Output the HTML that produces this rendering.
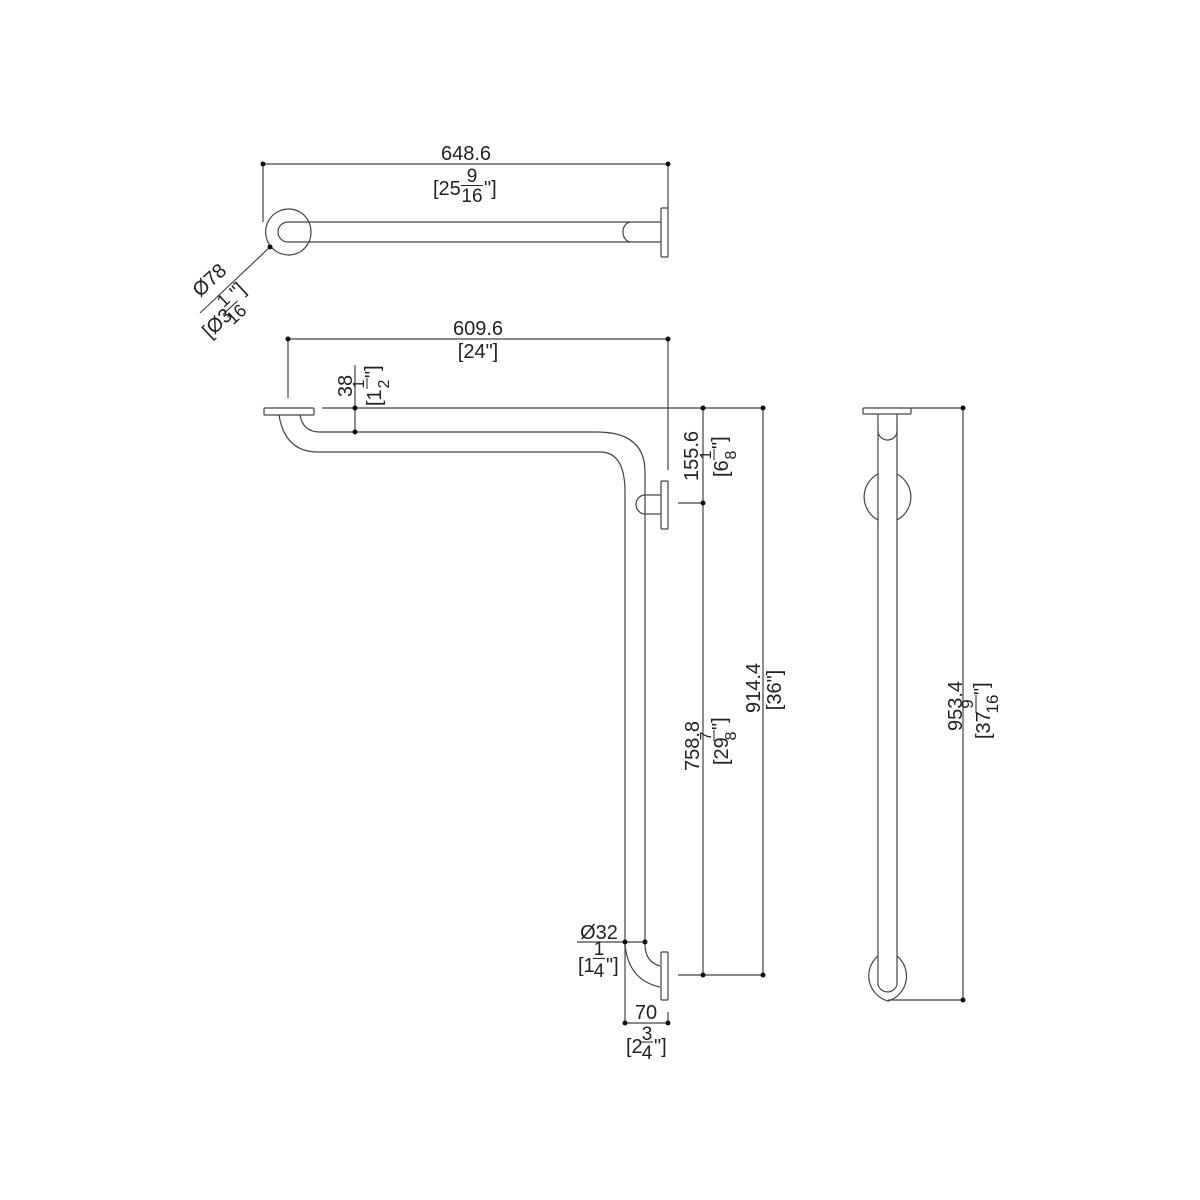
<!DOCTYPE html>
<html><head><meta charset="utf-8"><style>
html,body{margin:0;padding:0;background:#fff;}
svg{display:block;}
text{font-family:"Liberation Sans",sans-serif;fill:#222;}
</style></head><body>
<svg width="1200" height="1200" viewBox="0 0 1200 1200" xmlns="http://www.w3.org/2000/svg">
<g fill="none" stroke="#444" stroke-width="1.2">
<line x1="263" y1="164" x2="668" y2="164"/>
<line x1="263" y1="164" x2="263" y2="222"/>
<line x1="668" y1="164" x2="668" y2="208"/>
<path d="M300,212 A23,23 0 1 0 300,252"/>
<path d="M300,212 A23,23 0 0 1 311,232 A23,23 0 0 1 300,252"/>
<path d="M631,222 L288,222 A10,10 0 0 0 288,242 L631,242"/>
<path d="M631,222 A8,10 0 0 0 631,242"/>
<line x1="631" y1="222" x2="661" y2="222"/>
<line x1="631" y1="242" x2="661" y2="242"/>
<rect x="661" y="208" width="7" height="49" rx="1"/>
<line x1="270" y1="247" x2="200" y2="313"/>

<line x1="288" y1="339" x2="668" y2="339"/>
<line x1="288" y1="339" x2="288" y2="398"/>
<line x1="668" y1="339" x2="668" y2="470"/>
<rect x="264" y="408" width="50" height="7" rx="1"/>
<line x1="322" y1="408" x2="763" y2="408"/>
<line x1="355" y1="365" x2="355" y2="432"/>
<path d="M300,415 Q303,432 320,432 L597,432 Q645,432 645,472 L645,942"/>
<path d="M279,415 Q285,452 318,452 L600,452 Q625,452 625,492 L625,942"/>
<rect x="661" y="481" width="7" height="48" rx="1"/>
<path d="M645,495 A9,9.5 0 0 0 645,514"/>
<line x1="645" y1="495" x2="661" y2="495"/>
<line x1="645" y1="514" x2="661" y2="514"/>
<line x1="678" y1="503" x2="703" y2="503"/>
<line x1="703" y1="408" x2="703" y2="975"/>
<line x1="763" y1="408" x2="763" y2="975"/>
<line x1="678" y1="975" x2="763" y2="975"/>
<line x1="577" y1="942" x2="645" y2="942"/>
<path d="M645,944 Q645,962 660,966"/>
<path d="M625,944 Q628,980 660,987"/>
<rect x="661" y="952" width="7" height="48" rx="1"/>
<line x1="625" y1="942" x2="625" y2="1023"/>
<line x1="668" y1="1012" x2="668" y2="1023"/>
<line x1="624" y1="1023" x2="668" y2="1023"/>

<rect x="863" y="408" width="48" height="6" rx="1"/>
<line x1="911" y1="408" x2="963" y2="408"/>
<line x1="963" y1="408" x2="963" y2="1000"/>
<line x1="888" y1="1000" x2="963" y2="1000"/>
<path d="M878,414 L878,985 A10,10 0 0 0 897,985 L897,414"/>
<path d="M878,431 A9.5,9 0 0 0 897,431"/>
<path d="M878,474 A26,26 0 0 0 878,520"/>
<path d="M897,474 A26,26 0 0 1 897,520"/>
<path d="M878,956 A26,26 0 0 0 888,1001 A26,26 0 0 0 897,956"/>
</g>
<g fill="#111">
<circle cx="263" cy="164" r="2.5"/><circle cx="668" cy="164" r="2.5"/>
<circle cx="270" cy="247" r="2.5"/>
<circle cx="288" cy="339" r="2.5"/><circle cx="668" cy="339" r="2.5"/>
<circle cx="355" cy="408" r="2.5"/><circle cx="355" cy="432" r="2.5"/>
<circle cx="703" cy="408" r="2.5"/><circle cx="763" cy="408" r="2.5"/>
<circle cx="703" cy="503" r="2.5"/>
<circle cx="703" cy="975" r="2.5"/><circle cx="763" cy="975" r="2.5"/>
<circle cx="625" cy="942" r="2.5"/><circle cx="645" cy="942" r="2.5"/>
<circle cx="625" cy="1023" r="2.5"/><circle cx="668" cy="1023" r="2.5"/>
<circle cx="963" cy="408" r="2.5"/><circle cx="963" cy="1000" r="2.5"/>
</g>
<g font-size="20">
<text x="466" y="160" text-anchor="middle">648.6</text>
<text x="433" y="195">[25</text>
<text x="472" y="182" font-size="19" text-anchor="middle">9</text>
<line x1="461" y1="185.5" x2="483" y2="185.5" stroke="#222"/>
<text x="472" y="202" font-size="19" text-anchor="middle">16</text>
<text x="484" y="195">"]</text>

<g transform="translate(214,285) rotate(-43)"><text x="0" y="0" text-anchor="middle">Ø78</text></g>
<g transform="translate(225,314) rotate(-43)">
<text x="-28" y="8">[Ø3</text>
<text x="8" y="-5" font-size="18" text-anchor="middle">1</text>
<line x1="-2" y1="-1" x2="18" y2="-1" stroke="#222"/>
<text x="8" y="14" font-size="18" text-anchor="middle">16</text>
<text x="19" y="-2">"]</text>
</g>

<text x="478" y="335" text-anchor="middle">609.6</text>
<text x="478" y="358" text-anchor="middle">[24"]</text>

<g transform="translate(352,386) rotate(-90)"><text x="0" y="0" text-anchor="middle">38</text></g>
<g transform="translate(381,386) rotate(-90)">
<text x="-20" y="0">[1</text>
<text x="2" y="-17" font-size="16" text-anchor="middle">1</text>
<line x1="-3" y1="-14" x2="8" y2="-14" stroke="#222"/>
<text x="2" y="8" font-size="16" text-anchor="middle">2</text>
<text x="8" y="-2">"]</text>
</g>

<g transform="translate(698,456) rotate(-90)"><text x="0" y="0" text-anchor="middle">155.6</text></g>
<g transform="translate(728,457) rotate(-90)">
<text x="-20" y="0">[6</text>
<text x="2" y="-17" font-size="16" text-anchor="middle">1</text>
<line x1="-3" y1="-14" x2="8" y2="-14" stroke="#222"/>
<text x="2" y="8" font-size="16" text-anchor="middle">8</text>
<text x="8" y="-2">"]</text>
</g>

<g transform="translate(699,746) rotate(-90)"><text x="0" y="0" text-anchor="middle">758.8</text></g>
<g transform="translate(728,738) rotate(-90)">
<text x="-27" y="0">[29</text>
<text x="2" y="-17" font-size="16" text-anchor="middle">7</text>
<line x1="-3" y1="-14" x2="8" y2="-14" stroke="#222"/>
<text x="2" y="8" font-size="16" text-anchor="middle">8</text>
<text x="8" y="-2">"]</text>
</g>

<g transform="translate(760,688) rotate(-90)"><text x="0" y="0" text-anchor="middle">914.4</text></g>
<g transform="translate(781,690) rotate(-90)"><text x="0" y="0" text-anchor="middle">[36"]</text></g>

<g transform="translate(962,706) rotate(-90)"><text x="0" y="0" text-anchor="middle">953.4</text></g>
<g transform="translate(990,711) rotate(-90)">
<text x="-28" y="0">[37</text>
<text x="7" y="-17" font-size="17" text-anchor="middle">9</text>
<line x1="-2" y1="-14" x2="16" y2="-14" stroke="#222"/>
<text x="7" y="8" font-size="17" text-anchor="middle">16</text>
<text x="16" y="-2">"]</text>
</g>

<text x="599" y="939" text-anchor="middle">Ø32</text>
<text x="578" y="972">[1</text>
<text x="599" y="955" font-size="19" text-anchor="middle">1</text>
<line x1="593" y1="958.5" x2="605" y2="958.5" stroke="#222"/>
<text x="599" y="977" font-size="19" text-anchor="middle">4</text>
<text x="606" y="972">"]</text>

<text x="646" y="1019" text-anchor="middle">70</text>
<text x="626" y="1053">[2</text>
<text x="647" y="1040" font-size="19" text-anchor="middle">3</text>
<line x1="641" y1="1042" x2="653" y2="1042" stroke="#222"/>
<text x="647" y="1059" font-size="19" text-anchor="middle">4</text>
<text x="654" y="1053">"]</text>
</g>
</svg>
</body></html>
